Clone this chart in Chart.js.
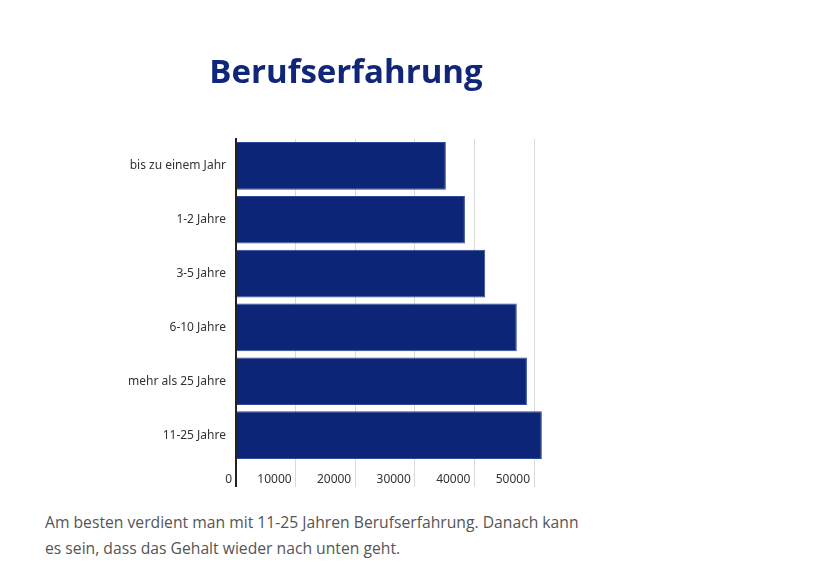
<!DOCTYPE html>
<html>
<head>
<meta charset="utf-8">
<script src="https://cdn.jsdelivr.net/npm/chart.js@4"></script>
<style>
  html, body { margin: 0; padding: 0; background: #fff; }
  #wrap { position: absolute; left: 0; top: 0; width: 692px; height: 500px; }
  #caption { position: absolute; left: 45px; top: 509px; width: 560px; margin: 0;
    font-family: "Open Sans", "Noto Sans", sans-serif; font-size: 15.7px; line-height: 26px; color: #555; }
</style>
</head>
<body>
<div id="wrap"><canvas id="c" width="692" height="500"></canvas></div>
<p id="caption">Am besten verdient man mit 11-25 Jahren Berufserfahrung. Danach kann<br>es sein, dass das Gehalt wieder nach unten geht.</p>
<script>
const categories = ["bis zu einem Jahr", "1-2 Jahre", "3-5 Jahre", "6-10 Jahre", "mehr als 25 Jahre", "11-25 Jahre"];
const salaries = [35200, 38400, 41800, 47100, 48800, 51300];
const xTicks = [0, 10000, 20000, 30000, 40000, 50000];
const chartTitle = "Berufserfahrung";

const centeredTitle = {
  id: 'centeredTitle',
  afterDraw(chart) {
    const ctx = chart.ctx;
    ctx.save();
    ctx.font = 'bold 33px "Open Sans"';
    ctx.fillStyle = '#102678';
    ctx.textAlign = 'center';
    ctx.textBaseline = 'alphabetic';
    ctx.fillText(chartTitle, chart.width / 2, 83);
    ctx.restore();
  }
};

new Chart(document.getElementById('c'), {
  type: 'bar',
  data: {
    labels: categories,
    datasets: [{
      data: salaries,
      backgroundColor: '#0c2577',
      borderColor: '#2f4a9c',
      borderWidth: 1,
      barPercentage: 0.885,
      categoryPercentage: 1.0
    }]
  },
  plugins: [centeredTitle],
  options: {
    indexAxis: 'y',
    responsive: false,
    animation: false,
    layout: { padding: { left: 0, right: 146, top: 139, bottom: 13 } },
    plugins: {
      legend: { display: false },
      tooltip: { enabled: false },
      title: { display: false }
    },
    scales: {
      x: {
        min: 0,
        max: 52000,
        afterBuildTicks: (s) => { s.ticks = xTicks.map(v => ({ value: v })); },
        ticks: {
          align: 'end',
          labelOffset: -4,
          padding: -15,
          color: '#333',
          font: { family: 'Noto Sans', size: 12 },
          maxRotation: 0,
          autoSkip: false,
          callback: (v) => String(v)
        },
        grid: {
          drawTicks: true,
          tickLength: 25,
          color: (ctx) => ctx.index === 0 ? '#222' : '#d9d9d9',
          lineWidth: (ctx) => ctx.index === 0 ? 2 : 1
        },
        border: { display: false },
        afterFit: (s) => { s.height = 25; }
      },
      y: {
        ticks: {
          color: '#333',
          padding: 10,
          font: { family: 'Noto Sans', size: 12 }
        },
        grid: { display: false, drawTicks: false },
        border: { display: true, color: '#222', width: 2 },
        afterFit: (s) => { s.width = 236; }
      }
    }
  }
});
</script>
</body>
</html>
